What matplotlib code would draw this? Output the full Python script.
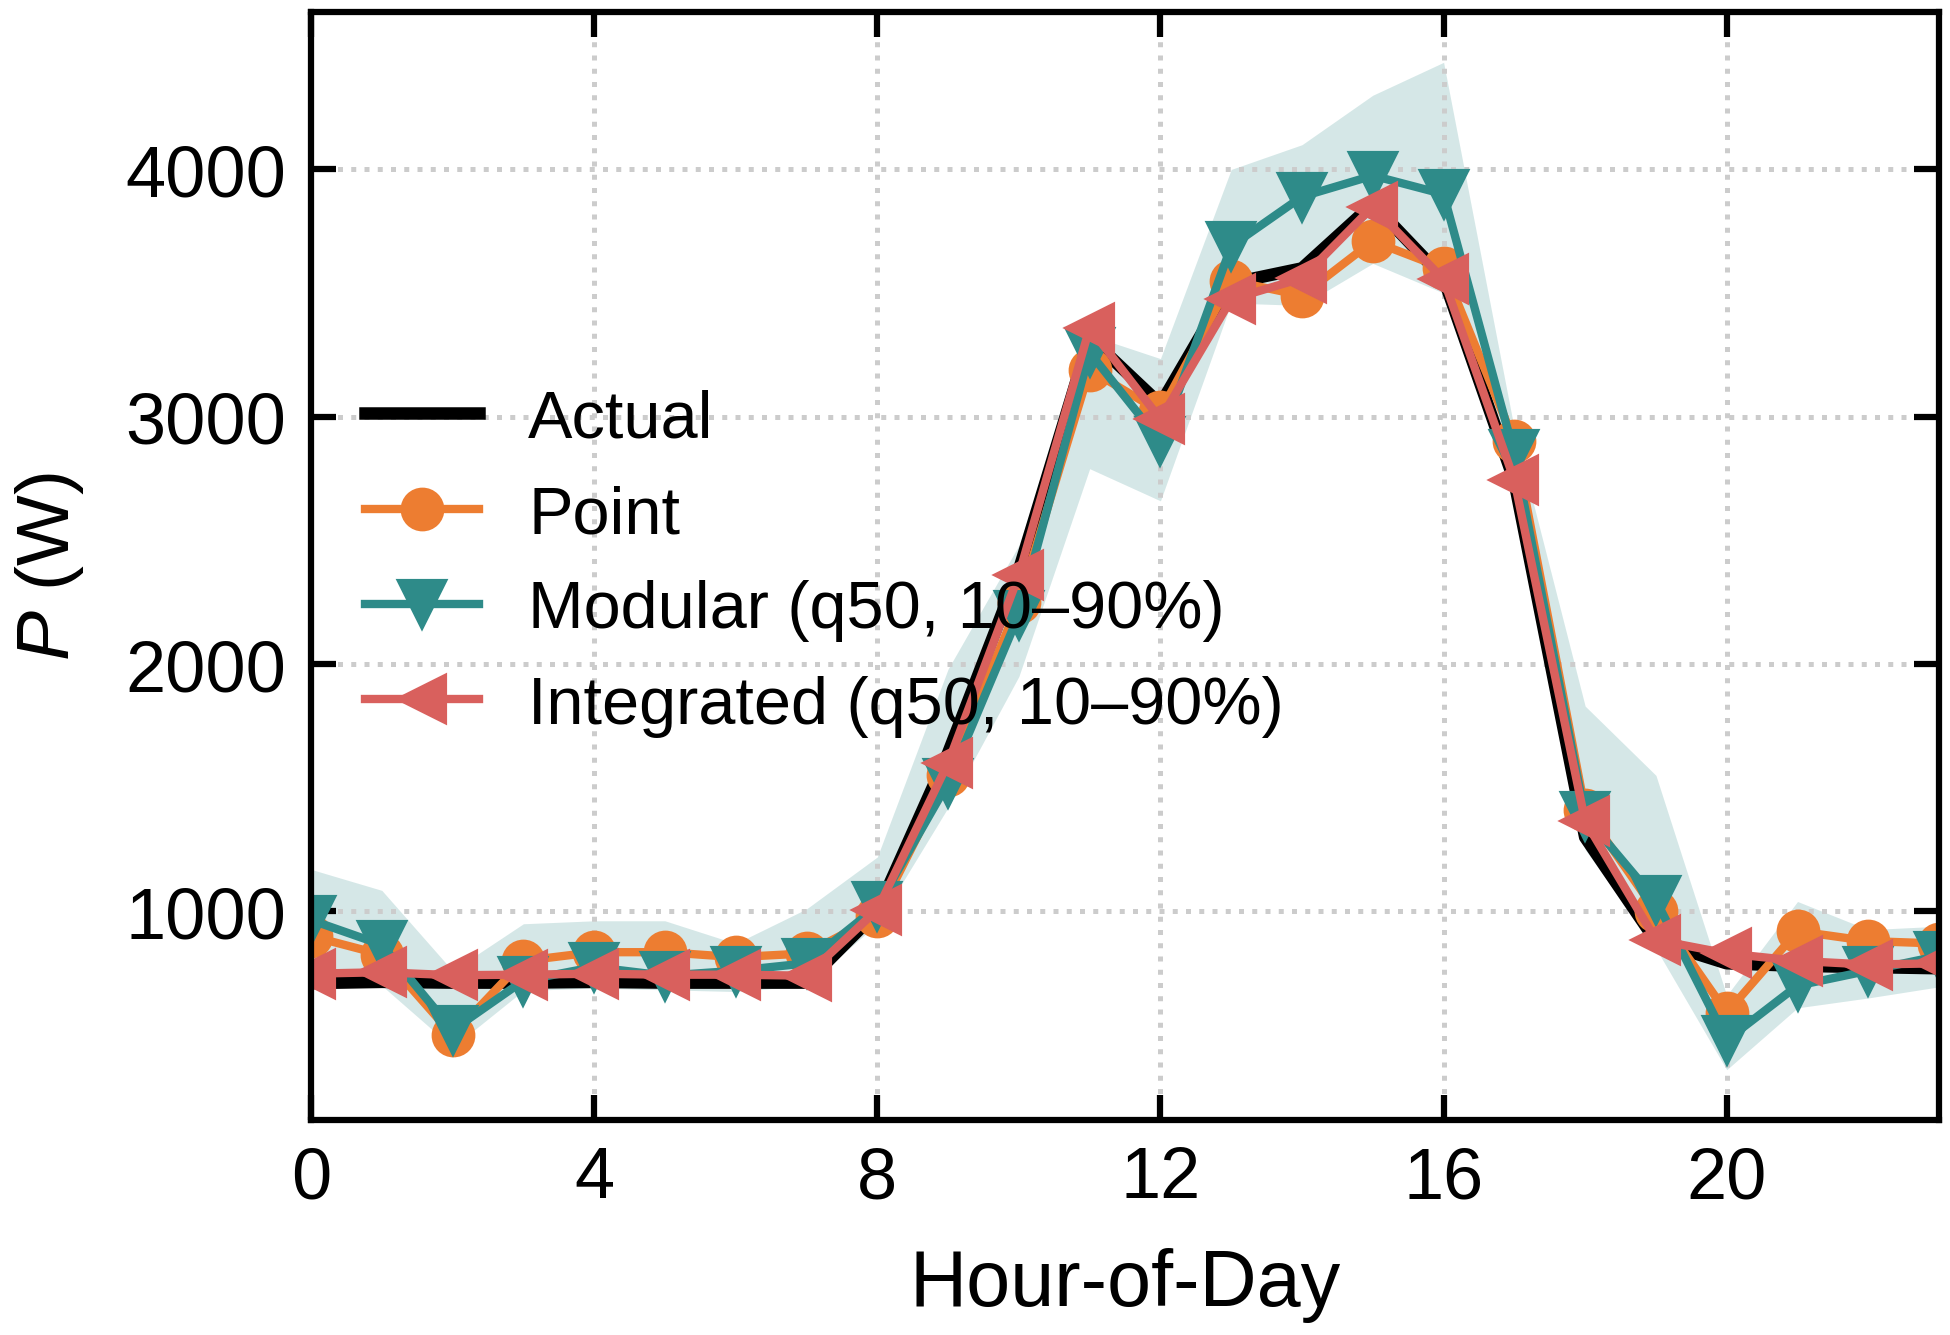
import matplotlib
matplotlib.use("Agg")
import matplotlib.pyplot as plt
import numpy as np

plt.rcParams["font.family"] = ["Liberation Sans", "DejaVu Sans"]
plt.rcParams["mathtext.fontset"] = "custom"
plt.rcParams["mathtext.rm"] = "Liberation Sans"
plt.rcParams["mathtext.it"] = "Liberation Sans:italic"

hours = np.arange(24)

actual = [710, 715, 712, 712, 715, 712, 712, 712, 1000, 1640, 2380, 3320,
          3050, 3540, 3600, 3860, 3560, 2740, 1300, 880, 790, 780, 775, 770]
point = [900, 825, 500, 800, 835, 835, 815, 830, 980, 1550, 2250, 3190,
         3020, 3550, 3490, 3710, 3600, 2900, 1410, 1000, 590, 920, 880, 870]
modular = [965, 865, 520, 720, 775, 740, 760, 790, 1020, 1520, 2200, 3260,
           2900, 3690, 3890, 3975, 3900, 2850, 1385, 1045, 480, 700, 760, 820]
integrated = [748, 754, 742, 744, 748, 744, 744, 740, 1007, 1600, 2360, 3360,
              2990, 3475, 3560, 3850, 3555, 2743, 1365, 885, 830, 800, 785, 790]
band_lo = [700, 700, 450, 680, 690, 683, 676, 700, 950, 1420, 1950, 2790,
           2660, 3460, 3450, 3620, 3500, 2700, 1250, 850, 360, 610, 650, 695]
band_hi = [1170, 1085, 760, 950, 962, 962, 870, 1010, 1220, 1980, 2480, 3330,
           3235, 4000, 4100, 4300, 4433, 2950, 1830, 1550, 660, 1040, 926, 940]

c_orange = "#ED7D31"
c_teal = "#2E8B89"
c_red = "#D9605D"

fig = plt.figure(figsize=(6.5, 4.4533), dpi=300)
ax = fig.add_axes([0.1595, 0.1609, 0.8349, 0.8294])

ax.fill_between(hours, band_lo, band_hi, color=c_teal, alpha=0.2, linewidth=0)
ax.plot(hours, actual, color="black", lw=3, label="Actual")
ax.plot(hours, point, color=c_orange, lw=2, marker="o", ms=9.5, label="Point")
ax.plot(hours, modular, color=c_teal, lw=2, marker="v", ms=11,
        label="Modular (q50, 10–90%)")
ax.plot(hours, integrated, color=c_red, lw=2, marker="<", ms=11,
        label="Integrated (q50, 10–90%)")

ax.set_xlim(0, 23)
ax.set_xticks([0, 4, 8, 12, 16, 20])
ax.set_yticks([1000, 2000, 3000, 4000])
ax.grid(True, linestyle=":", color="#cccccc", linewidth=1.2)

for s in ax.spines.values():
    s.set_linewidth(1.5)
ax.tick_params(direction="in", top=True, right=True, length=6, width=1.5,
               labelsize=17.3, pad=6)

ax.set_xlabel("Hour-of-Day", fontsize=19, labelpad=8.5)
ax.set_ylabel("$P$ (W)", fontsize=18, labelpad=9.5)

ax.legend(loc="center left", bbox_to_anchor=(0.033, 0.503), frameon=False,
          fontsize=16, borderaxespad=0, borderpad=0, labelspacing=0.5,
          handlelength=1.71, handletextpad=0.74)

fig.savefig("out.png", dpi=300)
